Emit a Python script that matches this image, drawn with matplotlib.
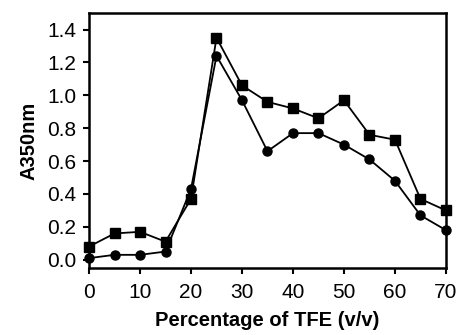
import matplotlib
matplotlib.use("Agg")
import matplotlib.pyplot as plt

tfe = [0, 5, 10, 15, 20, 25, 30, 35, 40, 45, 50, 55, 60, 65, 70]
squares = [0.08, 0.16, 0.17, 0.11, 0.37, 1.35, 1.06, 0.96, 0.92, 0.86, 0.97, 0.76, 0.73, 0.37, 0.30]
circles = [0.01, 0.03, 0.03, 0.05, 0.43, 1.24, 0.97, 0.66, 0.77, 0.77, 0.70, 0.61, 0.48, 0.27, 0.18]
xticks = [0, 10, 20, 30, 40, 50, 60, 70]
yticks = [0.0, 0.2, 0.4, 0.6, 0.8, 1.0, 1.2, 1.4]

plt.rcParams['font.family'] = ['Liberation Sans', 'DejaVu Sans']

fig = plt.figure(figsize=(4.6, 3.35), dpi=100)
ax = fig.add_axes([0.1935, 0.2, 0.776, 0.761])

ax.plot(tfe, squares, color='black', lw=1.3, marker='s', markersize=6.5, clip_on=False, zorder=3)
ax.plot(tfe, circles, color='black', lw=1.3, marker='o', markersize=6.5, clip_on=False, zorder=3)

ax.set_xlim(0, 70)
ax.set_ylim(-0.05, 1.5)
ax.set_xticks(xticks)
ax.set_xticklabels([str(v) for v in xticks])
ax.set_yticks(yticks)
ax.set_yticklabels([f"{v:.1f}" for v in yticks])
ax.tick_params(direction='out', length=4, width=1.5, labelsize=15, pad=5)
ax.tick_params(axis='x', pad=7)
for s in ax.spines.values():
    s.set_linewidth(1.8)

ax.set_xlabel('Percentage of TFE (v/v)', fontsize=14.5, fontweight='bold', labelpad=6)
ax.set_ylabel('A350nm', fontsize=14.5, fontweight='bold', labelpad=6)

fig.savefig('out.png', dpi=100)
